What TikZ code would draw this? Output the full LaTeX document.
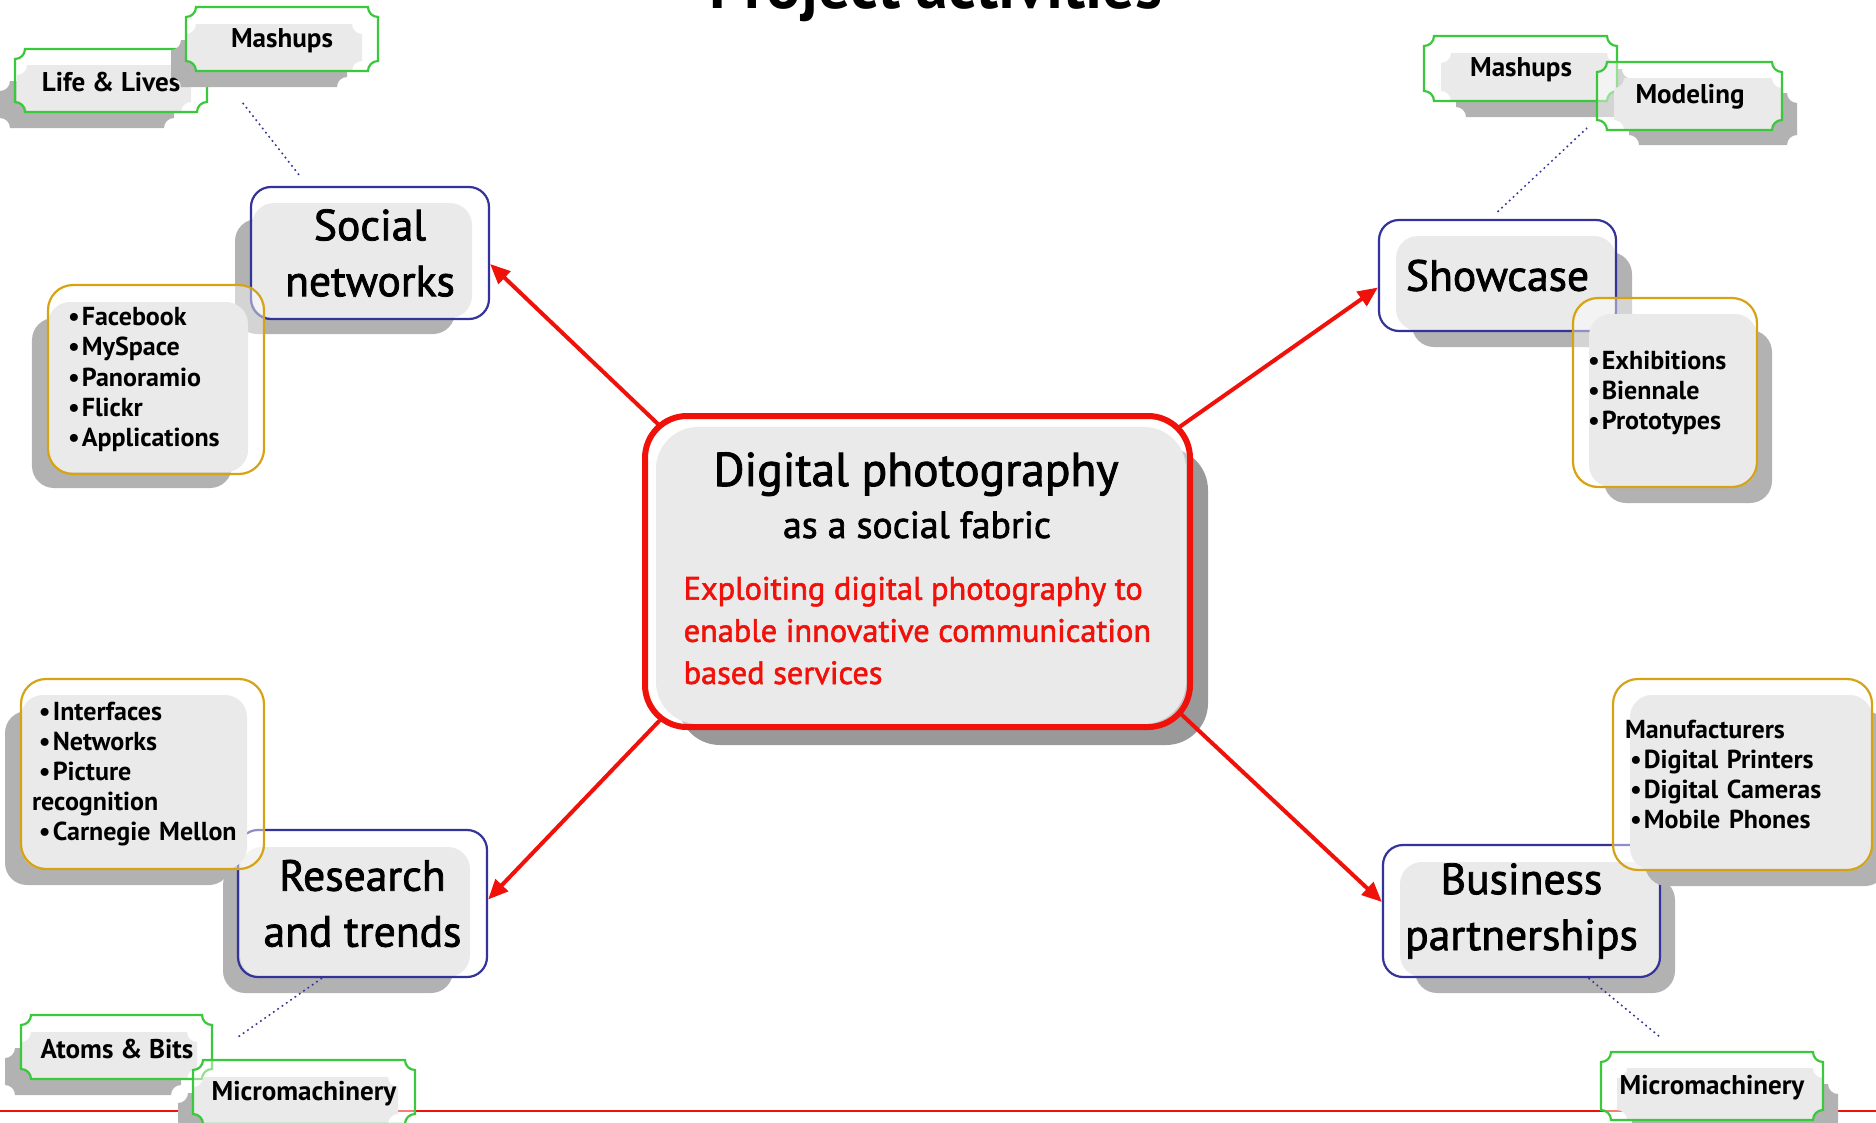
\documentclass[tikz,border=0pt]{standalone}
\usepackage{fontspec}
\setmainfont{PT Sans}
\newfontfamily\medio{PT Sans}[FakeBold=1.8]
\usetikzlibrary{arrows.meta}

\definecolor{navy}{RGB}{51,51,153}
\definecolor{oro}{RGB}{214,163,20}
\definecolor{verde}{RGB}{60,200,60}
\definecolor{rosso}{RGB}{240,18,10}
\definecolor{grigiochiaro}{RGB}{217,217,217}
\definecolor{grigioombra}{RGB}{178,178,178}
\definecolor{grigioscuro}{RGB}{153,153,153}

% pallino degli elenchi
\newcommand{\bul}{\textbullet\kern0.6pt}

% cartellino con angoli rientranti: [stile]{x0}{y0}{x1}{y1}
\newcommand{\ticket}[5][]{%
  \draw[#1] (#2+0.1,#5) -- (#4-0.1,#5)
    arc[start angle=180, end angle=270, radius=0.1]
    -- (#4,#3+0.1) arc[start angle=90, end angle=180, radius=0.1]
    -- (#2+0.1,#3) arc[start angle=0, end angle=90, radius=0.1]
    -- (#2,#5-0.1) arc[start angle=270, end angle=360, radius=0.1]
    -- cycle;}

% ombra + fondo grigio di un riquadro: [spostamento x]{x0}{y0}{x1}{y1}
\newcommand{\lastra}[5][0.16]{%
  \fill[drop, rounded corners=0.22cm, xshift=#1cm, yshift=-0.16cm] (#2,#3) rectangle (#4,#5);
  \fill[panel, rounded corners=0.22cm] (#2,#3) rectangle (#4,#5);}

\begin{document}
\begin{tikzpicture}[
        % Stili generali
        drop/.style={fill=grigioombra, draw=none},
        panel/.style={fill=grigiochiaro, draw=none},
        bordo/.style={draw=verde, line width=0.022cm, fill=white, fill opacity=0.45},
        etichetta/.style={font=\bfseries\fontsize{7.7}{9}\selectfont, inner sep=0},
        ramo/.style={draw=navy, line width=0.022cm, rounded corners=0.2cm, fill=white,
            fill opacity=0.45, text opacity=1, align=center, inner sep=0,
            font=\medio\fontsize{12.4}{15.9}\selectfont},
        elenco/.style={draw=oro, line width=0.022cm, rounded corners=0.25cm, fill=white,
            fill opacity=0.45, text opacity=1, align=left, inner sep=0,
            font=\bfseries\fontsize{7.4}{8.54}\selectfont},
        centro/.style={draw=rosso, line width=0.06cm, rounded corners=0.42cm, fill=white,
            fill opacity=0.45},
        freccia/.style={draw=rosso, line width=0.04cm, -{Triangle[length=0.2cm,width=0.17cm]}},
        guida/.style={draw=navy, line width=0.015cm, dash pattern=on 0.5pt off 1pt}
    ]

    \useasboundingbox (0,0) rectangle (18.76,-11.23);

    % 1. Titolo (tagliato dal bordo superiore) e riga rossa in fondo
    \node[font=\bfseries\fontsize{18.2}{22}\selectfont, anchor=base] (titolo) at (9.36,-0.09) {Project activities};
    \draw[rosso, line width=0.02cm] (0,-11.11) -- (18.76,-11.11);

    % 2. Riquadro centrale
    \fill[grigioscuro, rounded corners=0.42cm, xshift=0.22cm, yshift=-0.21cm] (6.56,-4.27) rectangle (11.86,-7.24);
    \fill[panel, rounded corners=0.42cm] (6.56,-4.27) rectangle (11.86,-7.24);
    \node[centro, minimum width=5.45cm, minimum height=3.11cm] (cen) at (9.175,-5.715) {};
    \node[font=\medio\fontsize{13.5}{17}\selectfont, anchor=base] (centit) at (9.16,-4.86) {Digital photography};
    \node[font=\medio\fontsize{10.75}{13}\selectfont, anchor=base] (censub) at (9.17,-5.38) {as a social fabric};
    % ancora sulla linea di base dell'ultima riga
    \node[text=rosso, font=\medio\fontsize{9.2}{12}\selectfont, align=left, anchor=base west, inner sep=0]
        (cenmsg) at (6.83,-6.84) {Exploiting digital photography to\\enable innovative communication\\based services};

    % 3. Linee tratteggiate verso i cartellini
    \coordinate (codasoc) at (2.42,-1.02);
    \coordinate (codashow) at (15.87,-1.28);
    \coordinate (codares) at (2.38,-10.37);
    \coordinate (codabus) at (16.60,-10.37);

    % 4. Ramo in alto a sinistra: Social networks
    \lastra[-0.17]{2.52}{-3.18}{4.72}{-2.03}
    \node[ramo, minimum width=2.38cm, minimum height=1.32cm] (social) at (3.70,-2.53) {Social\\networks};
    \lastra[-0.16]{0.48}{-4.72}{2.48}{-3.02}
    \node[elenco, minimum width=2.16cm, minimum height=1.89cm, text width=1.76cm] (socbul) at (1.56,-3.795)
        {\bul Facebook\\\bul MySpace\\\bul Panoramio\\\bul Flickr\\\bul Applications};
    \draw[guida] ([shift={(-0.71,0.11)}]social.north) -- (codasoc);
    % cartellini
    \ticket[drop, xshift=-0.17cm, yshift=-0.16cm]{0.17}{-1.12}{1.91}{-0.65}
    \ticket[panel]{0.17}{-1.12}{1.91}{-0.65}
    \ticket[bordo]{0.15}{-1.12}{2.07}{-0.49}
    \node[etichetta] (lives) at (1.11,-0.82) {Life \& Lives};
    \ticket[drop, xshift=-0.15cm, yshift=-0.16cm]{1.86}{-0.71}{3.62}{-0.24}
    \ticket[panel]{1.86}{-0.71}{3.62}{-0.24}
    \ticket[bordo]{1.86}{-0.71}{3.78}{-0.07}
    \node[etichetta] (mashl) at (2.82,-0.41) {Mashups};

    % 5. Ramo in alto a destra: Showcase
    \lastra[0.16]{13.96}{-3.31}{16.16}{-2.36}
    \node[ramo, minimum width=2.37cm, minimum height=1.11cm] (show) at (14.975,-2.755) {Showcase};
    \lastra[0.15]{15.89}{-4.87}{17.57}{-3.14}
    \node[elenco, minimum width=1.84cm, minimum height=1.89cm, text width=1.54cm] (showbul) at (16.65,-3.925)
        {\bul Exhibitions\\\bul Biennale\\\bul Prototypes};
    \draw[guida] ([yshift=0.07cm]show.north) -- (codashow);
    % cartellini
    \ticket[drop, xshift=0.15cm, yshift=-0.16cm]{14.41}{-1.01}{16.17}{-0.53}
    \ticket[panel]{14.41}{-1.01}{16.17}{-0.53}
    \ticket[bordo]{14.24}{-1.01}{16.17}{-0.36}
    \node[etichetta] (mashr) at (15.21,-0.70) {Mashups};
    \ticket[drop, xshift=0.15cm, yshift=-0.15cm]{16.14}{-1.30}{17.82}{-0.78}
    \ticket[panel]{16.14}{-1.30}{17.82}{-0.78}
    \ticket[bordo]{15.97}{-1.30}{17.82}{-0.62}
    \node[etichetta] (model) at (16.90,-0.97) {Modeling};

    % 6. Ramo in basso a sinistra: Research and trends
    \lastra[-0.17]{2.40}{-9.77}{4.70}{-8.47}
    \node[ramo, minimum width=2.49cm, minimum height=1.47cm] (research) at (3.625,-9.035) {Research\\and trends};
    \lastra[-0.16]{0.21}{-8.69}{2.47}{-6.95}
    \node[elenco, minimum width=2.43cm, minimum height=1.90cm, text width=2.07cm] (resbul) at (1.425,-7.74)
        {\bul Interfaces\\\bul Networks\\\bul Picture\\\hspace*{-0.07cm}recognition\\\bul Carnegie Mellon};
    \draw[guida] ([xshift=-0.405cm]research.south) -- (codares);
    % cartellini
    \ticket[drop, xshift=-0.16cm, yshift=-0.16cm]{0.21}{-10.79}{1.97}{-10.32}
    \ticket[panel]{0.21}{-10.79}{1.97}{-10.32}
    \ticket[bordo]{0.21}{-10.79}{2.12}{-10.15}
    \node[etichetta] (atoms) at (1.17,-10.49) {Atoms \& Bits};
    \ticket[drop, xshift=-0.15cm, yshift=-0.16cm]{1.93}{-11.24}{3.98}{-10.77}
    \ticket[panel]{1.93}{-11.24}{3.98}{-10.77}
    \ticket[bordo]{1.93}{-11.24}{4.15}{-10.60}
    \node[etichetta] (microl) at (3.04,-10.94) {Micromachinery};

    % 7. Ramo in basso a destra: Business partnerships
    \lastra[0.15]{14.00}{-9.77}{16.60}{-8.62}
    \node[ramo, minimum width=2.77cm, minimum height=1.32cm] (business) at (15.215,-9.11) {Business\\partnerships};
    \lastra[0.15]{16.30}{-8.70}{18.72}{-6.95}
    \node[elenco, minimum width=2.59cm, minimum height=1.91cm, text width=2.35cm] (busbul) at (17.425,-7.745)
        {Manufacturers\\\hspace*{0.05cm}\bul Digital Printers\\\hspace*{0.05cm}\bul Digital Cameras\\\hspace*{0.05cm}\bul Mobile Phones};
    \draw[guida] ([xshift=0.67cm]business.south) -- (codabus);
    % cartellino
    \ticket[drop, xshift=0.15cm, yshift=-0.16cm]{16.17}{-11.20}{18.23}{-10.68}
    \ticket[panel]{16.17}{-11.20}{18.23}{-10.68}
    \ticket[bordo]{16.01}{-11.20}{18.23}{-10.52}
    \node[etichetta] (micror) at (17.12,-10.88) {Micromachinery};

    % 8. Frecce rosse dal centro ai rami
    \draw[freccia] ([shift={(0.17,-0.12)}]cen.north west) -- ([yshift=-0.11cm]social.east);
    \draw[freccia] ([shift={(-0.15,-0.15)}]cen.north east) -- ([yshift=-0.12cm]show.west);
    \draw[freccia] ([shift={(0.20,0.12)}]cen.south west) -- ([yshift=0.04cm]research.east);
    \draw[freccia] ([shift={(-0.12,0.16)}]cen.south east) -- ([yshift=0.09cm]business.west);

\end{tikzpicture}
\end{document}
